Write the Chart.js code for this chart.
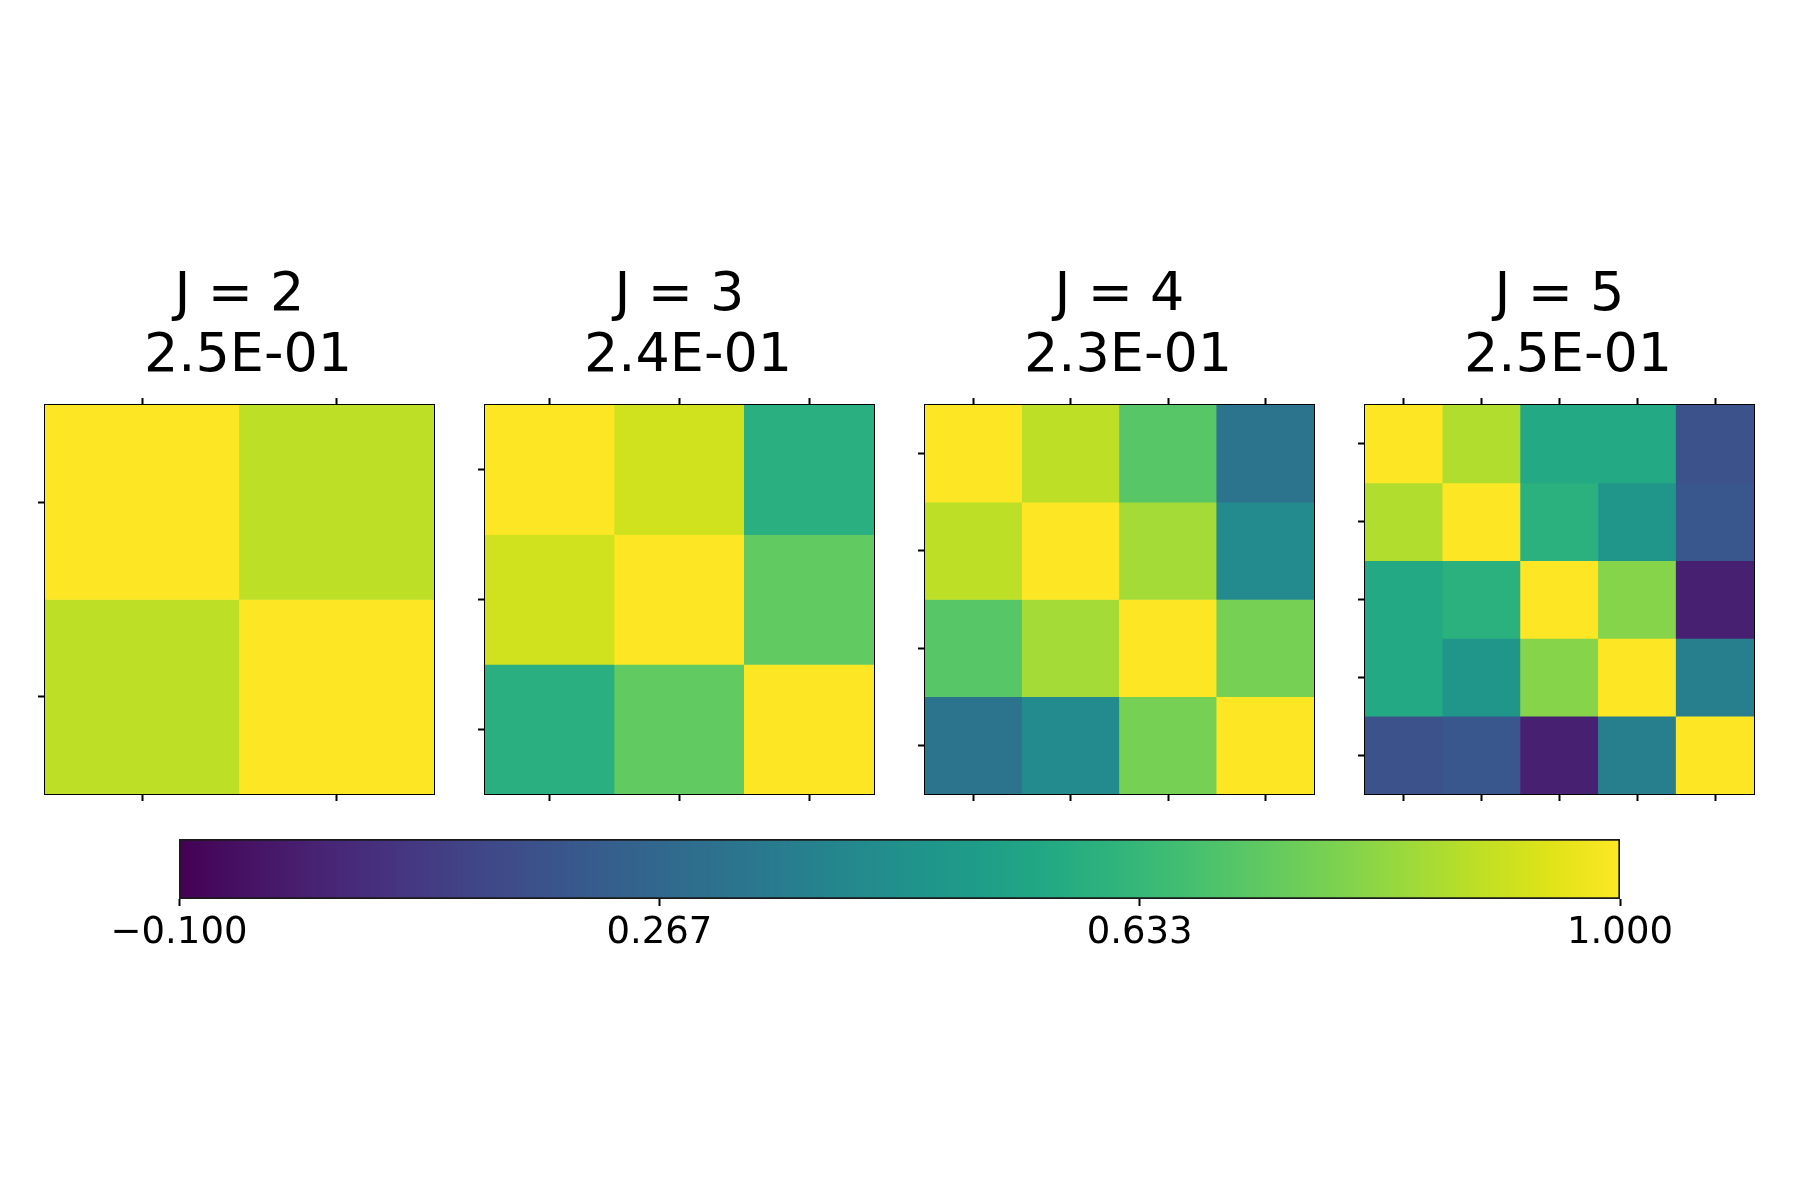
<!DOCTYPE html>
<html>
<head>
<meta charset="utf-8">
<script src="https://cdn.jsdelivr.net/npm/chart.js@4"></script>
<style>
  body { margin: 0; background: #fff; width: 1800px; height: 1200px; position: relative; overflow: hidden; }
  canvas { position: absolute; }
</style>
</head>
<body>
<canvas id="m0" width="403" height="541" style="left:38px;top:260px"></canvas>
<canvas id="m1" width="403" height="541" style="left:478px;top:260px"></canvas>
<canvas id="m2" width="403" height="541" style="left:918px;top:260px"></canvas>
<canvas id="m3" width="403" height="541" style="left:1358px;top:260px"></canvas>
<canvas id="cbar" width="1641" height="140" style="left:79px;top:829px"></canvas>
<script>
// valores
const jValues = [2, 3, 4, 5];
const errLabels = ['2.5E-01', '2.4E-01', '2.3E-01', '2.5E-01'];

const corrJ2 = [
    [1.00, 0.89],
    [0.89, 1.00]
];
const corrJ3 = [
    [1.00, 0.92, 0.59],
    [0.92, 1.00, 0.73],
    [0.59, 0.73, 1.00]
];
const corrJ4 = [
    [1.00, 0.89, 0.71, 0.32],
    [0.89, 1.00, 0.85, 0.42],
    [0.71, 0.85, 1.00, 0.77],
    [0.32, 0.42, 0.77, 1.00]
];
const corrJ5 = [
    [1.00, 0.87, 0.565, 0.565, 0.175],
    [0.87, 1.00, 0.60, 0.475, 0.196],
    [0.565, 0.60, 1.00, 0.80, -0.003],
    [0.565, 0.475, 0.80, 1.00, 0.372],
    [0.175, 0.196, -0.003, 0.372, 1.00]
];
const matrices = [corrJ2, corrJ3, corrJ4, corrJ5];

const vMin = -0.1;
const vMax = 1.0;
const cbarTicks = [-0.1, 0.26667, 0.63333, 1.0];

// viridis cada 0.05
const viridisStops = ['#440154', '#471365', '#482475', '#463480', '#414487', '#3b528b', '#355f8d',
    '#2f6c8e', '#2a788e', '#25848e', '#21918c', '#1e9c89', '#22a884', '#2fb47c', '#44bf70',
    '#5ec962', '#7ad151', '#9bd93c', '#bddf26', '#dfe318', '#fde725'];

function hexToRgb(h) {
    return [parseInt(h.slice(1, 3), 16), parseInt(h.slice(3, 5), 16), parseInt(h.slice(5, 7), 16)];
}

function viridis(v) {
    let t = (v - vMin) / (vMax - vMin);
    t = Math.max(0, Math.min(1, t));
    const pos = t * (viridisStops.length - 1);
    const i = Math.min(Math.floor(pos), viridisStops.length - 2);
    const f = pos - i;
    const a = hexToRgb(viridisStops[i]);
    const b = hexToRgb(viridisStops[i + 1]);
    const c = a.map((x, k) => Math.round(x + (b[k] - x) * f));
    return `rgb(${c[0]}, ${c[1]}, ${c[2]})`;
}

Chart.defaults.font.family = "'DejaVu Sans', sans-serif";
Chart.defaults.color = '#000';

const tickLen = 7;

function cellTicks(n) {
    return function(axis) {
        axis.ticks = Array.from({length: n}, (_, i) => ({value: i + 0.5}));
    };
}

matrices.forEach(function(mat, k) {
    const n = mat.length;
    const labels = mat.map((_, i) => String(i));
    const datasets = mat.map(function(row, r) {
        return {
            data: row.map(() => [r, r + 1]),
            backgroundColor: row.map(v => viridis(v)),
            borderWidth: 0,
            grouped: false,
            barPercentage: 1,
            categoryPercentage: 1
        };
    });

    const tickGrid = {
        drawOnChartArea: false,
        drawTicks: true,
        tickLength: tickLen,
        tickColor: '#000',
        tickWidth: 2,
        offset: false
    };
    const border = { display: true, color: '#000', width: 2 };

    new Chart(document.getElementById('m' + k).getContext('2d'), {
        type: 'bar',
        data: { labels: labels, datasets: datasets },
        options: {
            responsive: false,
            animation: false,
            layout: { padding: 0 },
            plugins: {
                legend: { display: false },
                tooltip: { enabled: false },
                title: {
                    display: true,
                    text: ['J = ' + jValues[k], ' ' + errLabels[k]],
                    color: '#000',
                    font: { size: 54, weight: 'normal', lineHeight: 1.13 },
                    padding: { top: 5.5, bottom: 10.5 }
                }
            },
            scales: {
                x: {
                    position: 'bottom',
                    offset: true,
                    ticks: { display: false },
                    grid: tickGrid,
                    border: border
                },
                x2: {
                    type: 'category',
                    labels: labels,
                    position: 'top',
                    offset: true,
                    ticks: { display: false },
                    grid: tickGrid,
                    border: border
                },
                y: {
                    type: 'linear',
                    position: 'left',
                    min: 0,
                    max: n,
                    reverse: true,
                    afterBuildTicks: cellTicks(n),
                    ticks: { display: false },
                    grid: tickGrid,
                    border: border
                },
                y2: {
                    type: 'linear',
                    position: 'right',
                    min: 0,
                    max: n,
                    reverse: true,
                    afterBuildTicks: cellTicks(n),
                    ticks: { display: false },
                    grid: Object.assign({}, tickGrid, { tickColor: 'rgba(0,0,0,0)' }),
                    border: border
                }
            }
        }
    });
});

// barra de color
function cbarGradient(context) {
    const chart = context.chart;
    const area = chart.chartArea;
    if (!area) {
        return null;
    }
    const g = chart.ctx.createLinearGradient(area.left, 0, area.right, 0);
    viridisStops.forEach((c, i) => g.addColorStop(i / (viridisStops.length - 1), c));
    return g;
}

new Chart(document.getElementById('cbar').getContext('2d'), {
    type: 'bar',
    data: {
        labels: ['cbar'],
        datasets: [{
            data: [[vMin, vMax]],
            backgroundColor: cbarGradient,
            borderColor: '#1a1a1a',
            borderWidth: 2,
            borderSkipped: false,
            barPercentage: 1,
            categoryPercentage: 1
        }]
    },
    options: {
        indexAxis: 'y',
        responsive: false,
        animation: false,
        layout: { padding: { left: 100, right: 100, top: 10, bottom: 10 } },
        plugins: {
            legend: { display: false },
            tooltip: { enabled: false }
        },
        scales: {
            x: {
                type: 'linear',
                min: vMin,
                max: vMax,
                afterBuildTicks: function(axis) {
                    axis.ticks = cbarTicks.map(v => ({value: v}));
                },
                ticks: {
                    padding: 5,
                    maxRotation: 0,
                    autoSkip: false,
                    font: { size: 37 },
                    color: '#000',
                    callback: function(value) {
                        return value.toFixed(3).replace('-', '\u2212');
                    }
                },
                grid: {
                    drawOnChartArea: false,
                    drawTicks: true,
                    tickLength: tickLen,
                    tickColor: '#000',
                    tickWidth: 2
                },
                border: { display: false }
            },
            y: {
                display: false
            }
        }
    }
});
</script>
</body>
</html>
